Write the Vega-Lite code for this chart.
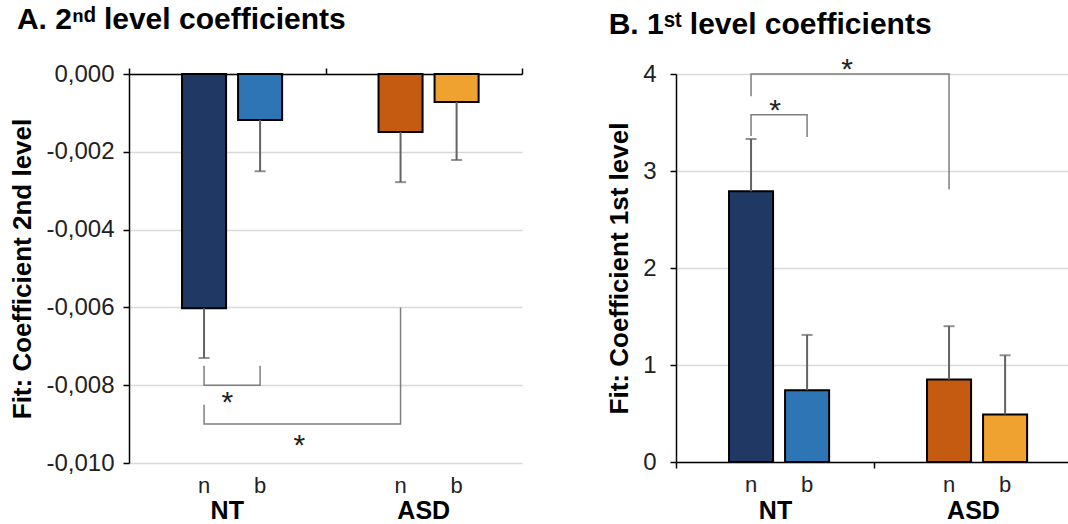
{
  "$schema": "https://vega.github.io/schema/vega-lite/v6.json",
  "padding": {"left": 9, "top": 5, "right": 0, "bottom": 0},
  "spacing": 83,
  "background": "white",
  "config": {
    "font": "Liberation Sans",
    "view": {"stroke": null},
    "axis": {"labelFont": "Liberation Sans", "titleFont": "Liberation Sans"}
  },
  "datasets": {
    "barsA": [
      {"group": "NT", "cond": "n", "key": "NT n", "value": -0.00602, "err": -0.0073},
      {"group": "NT", "cond": "b", "key": "NT b", "value": -0.00118, "err": -0.0025},
      {"group": "ASD", "cond": "n", "key": "ASD n", "value": -0.00149, "err": -0.00278},
      {"group": "ASD", "cond": "b", "key": "ASD b", "value": -0.00072, "err": -0.00221}
    ],
    "barsB": [
      {"group": "NT", "cond": "n", "key": "NT n", "value": 2.79, "err": 3.33},
      {"group": "NT", "cond": "b", "key": "NT b", "value": 0.74, "err": 1.31},
      {"group": "ASD", "cond": "n", "key": "ASD n", "value": 0.85, "err": 1.4},
      {"group": "ASD", "cond": "b", "key": "ASD b", "value": 0.49, "err": 1.1}
    ],
    "bracketsA": [
      {"br": "s", "i": 1, "group": "NT", "cond": "n", "y": -0.0075},
      {"br": "s", "i": 2, "group": "NT", "cond": "n", "y": -0.008},
      {"br": "s", "i": 3, "group": "NT", "cond": "b", "y": -0.008},
      {"br": "s", "i": 4, "group": "NT", "cond": "b", "y": -0.0075},
      {"br": "l", "i": 1, "group": "NT", "cond": "n", "y": -0.0085},
      {"br": "l", "i": 2, "group": "NT", "cond": "n", "y": -0.009},
      {"br": "l", "i": 3, "group": "ASD", "cond": "n", "y": -0.009},
      {"br": "l", "i": 4, "group": "ASD", "cond": "n", "y": -0.006}
    ],
    "bracketsB": [
      {"br": "s", "i": 1, "group": "NT", "cond": "n", "y": 3.36},
      {"br": "s", "i": 2, "group": "NT", "cond": "n", "y": 3.58},
      {"br": "s", "i": 3, "group": "NT", "cond": "b", "y": 3.58},
      {"br": "s", "i": 4, "group": "NT", "cond": "b", "y": 3.35},
      {"br": "l", "i": 1, "group": "NT", "cond": "n", "y": 3.77},
      {"br": "l", "i": 2, "group": "NT", "cond": "n", "y": 4.0},
      {"br": "l", "i": 3, "group": "ASD", "cond": "n", "y": 4.0},
      {"br": "l", "i": 4, "group": "ASD", "cond": "n", "y": 2.81}
    ]
  },
  "hconcat": [
    {
      "width": 393,
      "height": 389,
      "title": {"text": "A. 2ⁿᵈ level coefficients", "anchor": "start", "frame": "bounds", "fontSize": 30, "fontWeight": "bold", "color": "black", "offset": 27, "dx": 7},
      "resolve": {"axis": {"x": "independent"}},
      "layer": [
        {
          "data": {"name": "barsA"},
          "mark": {"type": "bar", "stroke": "black", "strokeWidth": 2},
          "encoding": {
            "x": {"field": "group", "type": "nominal", "sort": ["NT", "ASD"], "scale": {"domain": ["NT", "ASD"], "paddingInner": 0, "paddingOuter": 0},
              "axis": {"orient": "top", "labels": false, "title": null, "domainColor": "black", "domainWidth": 1.5, "tickColor": "black", "tickWidth": 1.5, "tickSize": 6, "tickBand": "extent"}},
            "xOffset": {"field": "cond", "type": "nominal", "sort": ["n", "b"], "scale": {"domain": ["n", "b"], "paddingInner": 0.214, "paddingOuter": 0.86, "align": 0.55}},
            "y": {"field": "value", "type": "quantitative", "scale": {"domain": [-0.01, 0], "nice": false, "zero": false},
              "axis": {"values": [0, -0.002, -0.004, -0.006, -0.008, -0.01],
                "labelExpr": "replace(replace(format(datum.value, '.3f'), '.', ','), '\u2212', '-')",
                "labelFontSize": 24, "labelColor": "#222", "labelPadding": 9,
                "title": "Fit: Coefficient 2nd level", "titleFontSize": 26, "titleFontWeight": "bold", "titleColor": "black", "titlePadding": 10,
                "grid": true, "gridColor": "#D9D9D9", "gridWidth": 1.5,
                "domainColor": "black", "domainWidth": 1.5, "tickColor": "black", "tickWidth": 1.5, "tickSize": 6}},
            "color": {"field": "key", "type": "nominal", "scale": {"domain": ["NT n", "NT b", "ASD n", "ASD b"], "range": ["#1F3864", "#2E75B6", "#C55A11", "#F0A230"]}, "legend": null}
          }
        },
        {
          "data": {"name": "barsA"},
          "mark": {"type": "rule", "color": "#636363", "strokeWidth": 2},
          "encoding": {
            "x": {"field": "group", "type": "nominal", "sort": ["NT", "ASD"],
              "axis": {"orient": "bottom", "domain": false, "ticks": false, "title": null, "labelFontSize": 25, "labelFontWeight": "bold", "labelColor": "black", "labelPadding": 35, "labelAngle": 0}},
            "xOffset": {"field": "cond", "type": "nominal", "sort": ["n", "b"]},
            "y": {"field": "value", "type": "quantitative"},
            "y2": {"field": "err"}
          }
        },
        {
          "data": {"name": "barsA"},
          "mark": {"type": "tick", "color": "#636363", "thickness": 2, "size": 11},
          "encoding": {
            "x": {"field": "group", "type": "nominal", "sort": ["NT", "ASD"], "axis": null},
            "xOffset": {"field": "cond", "type": "nominal", "sort": ["n", "b"]},
            "y": {"field": "err", "type": "quantitative"}
          }
        },
        {
          "data": {"name": "bracketsA"},
          "mark": {"type": "line", "color": "#7F7F7F", "strokeWidth": 1.5},
          "encoding": {
            "x": {"field": "group", "type": "nominal", "sort": ["NT", "ASD"], "axis": null},
            "xOffset": {"field": "cond", "type": "nominal", "sort": ["n", "b"]},
            "y": {"field": "y", "type": "quantitative"},
            "detail": {"field": "br"},
            "order": {"field": "i"}
          }
        },
        {
          "data": {"name": "barsA"},
          "mark": {"type": "text", "fontSize": 22, "color": "#222", "baseline": "middle"},
          "encoding": {
            "x": {"field": "group", "type": "nominal", "sort": ["NT", "ASD"], "axis": null},
            "xOffset": {"field": "cond", "type": "nominal", "sort": ["n", "b"]},
            "y": {"datum": -0.0106},
            "text": {"field": "cond"}
          }
        },
        {
          "data": {"values": [{"group": "NT", "y": -0.0087, "t": "*"}]},
          "mark": {"type": "text", "fontSize": 30, "color": "#222", "baseline": "alphabetic"},
          "encoding": {
            "x": {"field": "group", "type": "nominal", "sort": ["NT", "ASD"], "axis": null},
            "y": {"field": "y", "type": "quantitative"},
            "text": {"field": "t"}
          }
        },
        {
          "data": {"values": [{"group": "NT", "y": -0.0098, "t": "*"}]},
          "mark": {"type": "text", "fontSize": 30, "color": "#222", "baseline": "alphabetic", "dx": 72},
          "encoding": {
            "x": {"field": "group", "type": "nominal", "sort": ["NT", "ASD"], "axis": null},
            "y": {"field": "y", "type": "quantitative"},
            "text": {"field": "t"}
          }
        }
      ]
    },
    {
      "width": 396,
      "height": 388,
      "title": {"text": "B. 1ˢᵗ level coefficients", "anchor": "start", "frame": "bounds", "fontSize": 30, "fontWeight": "bold", "color": "black", "offset": 15, "dx": 2},
      "layer": [
        {
          "data": {"name": "barsB"},
          "mark": {"type": "bar", "stroke": "black", "strokeWidth": 2},
          "encoding": {
            "x": {"field": "group", "type": "nominal", "sort": ["NT", "ASD"], "scale": {"domain": ["NT", "ASD"], "paddingInner": 0, "paddingOuter": 0},
              "axis": {"orient": "bottom", "title": null, "labelFontSize": 25, "labelFontWeight": "bold", "labelColor": "black", "labelPadding": 30, "labelAngle": 0,
                "domainColor": "black", "domainWidth": 1.5, "tickColor": "black", "tickWidth": 1.5, "tickSize": 6, "tickBand": "extent"}},
            "xOffset": {"field": "cond", "type": "nominal", "sort": ["n", "b"], "scale": {"domain": ["n", "b"], "paddingInner": 0.214, "paddingOuter": 0.86}},
            "y": {"field": "value", "type": "quantitative", "scale": {"domain": [0, 4], "nice": false},
              "axis": {"values": [0, 1, 2, 3, 4], "format": "d",
                "labelFontSize": 24, "labelColor": "#222", "labelPadding": 14,
                "title": "Fit: Coefficient 1st level", "titleFontSize": 26, "titleFontWeight": "bold", "titleColor": "black", "titlePadding": 10,
                "grid": true, "gridColor": "#D9D9D9", "gridWidth": 1.5,
                "domainColor": "black", "domainWidth": 1.5, "tickColor": "black", "tickWidth": 1.5, "tickSize": 6}},
            "color": {"field": "key", "type": "nominal", "scale": {"domain": ["NT n", "NT b", "ASD n", "ASD b"], "range": ["#1F3864", "#2E75B6", "#C55A11", "#F0A230"]}, "legend": null}
          }
        },
        {
          "data": {"name": "barsB"},
          "mark": {"type": "rule", "color": "#636363", "strokeWidth": 2},
          "encoding": {
            "x": {"field": "group", "type": "nominal", "sort": ["NT", "ASD"]},
            "xOffset": {"field": "cond", "type": "nominal", "sort": ["n", "b"]},
            "y": {"field": "value", "type": "quantitative"},
            "y2": {"field": "err"}
          }
        },
        {
          "data": {"name": "barsB"},
          "mark": {"type": "tick", "color": "#636363", "thickness": 2, "size": 11},
          "encoding": {
            "x": {"field": "group", "type": "nominal", "sort": ["NT", "ASD"]},
            "xOffset": {"field": "cond", "type": "nominal", "sort": ["n", "b"]},
            "y": {"field": "err", "type": "quantitative"}
          }
        },
        {
          "data": {"name": "bracketsB"},
          "mark": {"type": "line", "color": "#7F7F7F", "strokeWidth": 1.5},
          "encoding": {
            "x": {"field": "group", "type": "nominal", "sort": ["NT", "ASD"]},
            "xOffset": {"field": "cond", "type": "nominal", "sort": ["n", "b"]},
            "y": {"field": "y", "type": "quantitative"},
            "detail": {"field": "br"},
            "order": {"field": "i"}
          }
        },
        {
          "data": {"name": "barsB"},
          "mark": {"type": "text", "fontSize": 22, "color": "#222", "baseline": "middle"},
          "encoding": {
            "x": {"field": "group", "type": "nominal", "sort": ["NT", "ASD"]},
            "xOffset": {"field": "cond", "type": "nominal", "sort": ["n", "b"]},
            "y": {"datum": -0.24},
            "text": {"field": "cond"}
          }
        },
        {
          "data": {"values": [{"group": "NT", "y": 3.53, "t": "*"}]},
          "mark": {"type": "text", "fontSize": 30, "color": "#222", "baseline": "alphabetic"},
          "encoding": {
            "x": {"field": "group", "type": "nominal", "sort": ["NT", "ASD"]},
            "y": {"field": "y", "type": "quantitative"},
            "text": {"field": "t"}
          }
        },
        {
          "data": {"values": [{"group": "NT", "y": 3.95, "t": "*"}]},
          "mark": {"type": "text", "fontSize": 30, "color": "#222", "baseline": "alphabetic", "dx": 72},
          "encoding": {
            "x": {"field": "group", "type": "nominal", "sort": ["NT", "ASD"]},
            "y": {"field": "y", "type": "quantitative"},
            "text": {"field": "t"}
          }
        }
      ]
    }
  ]
}
